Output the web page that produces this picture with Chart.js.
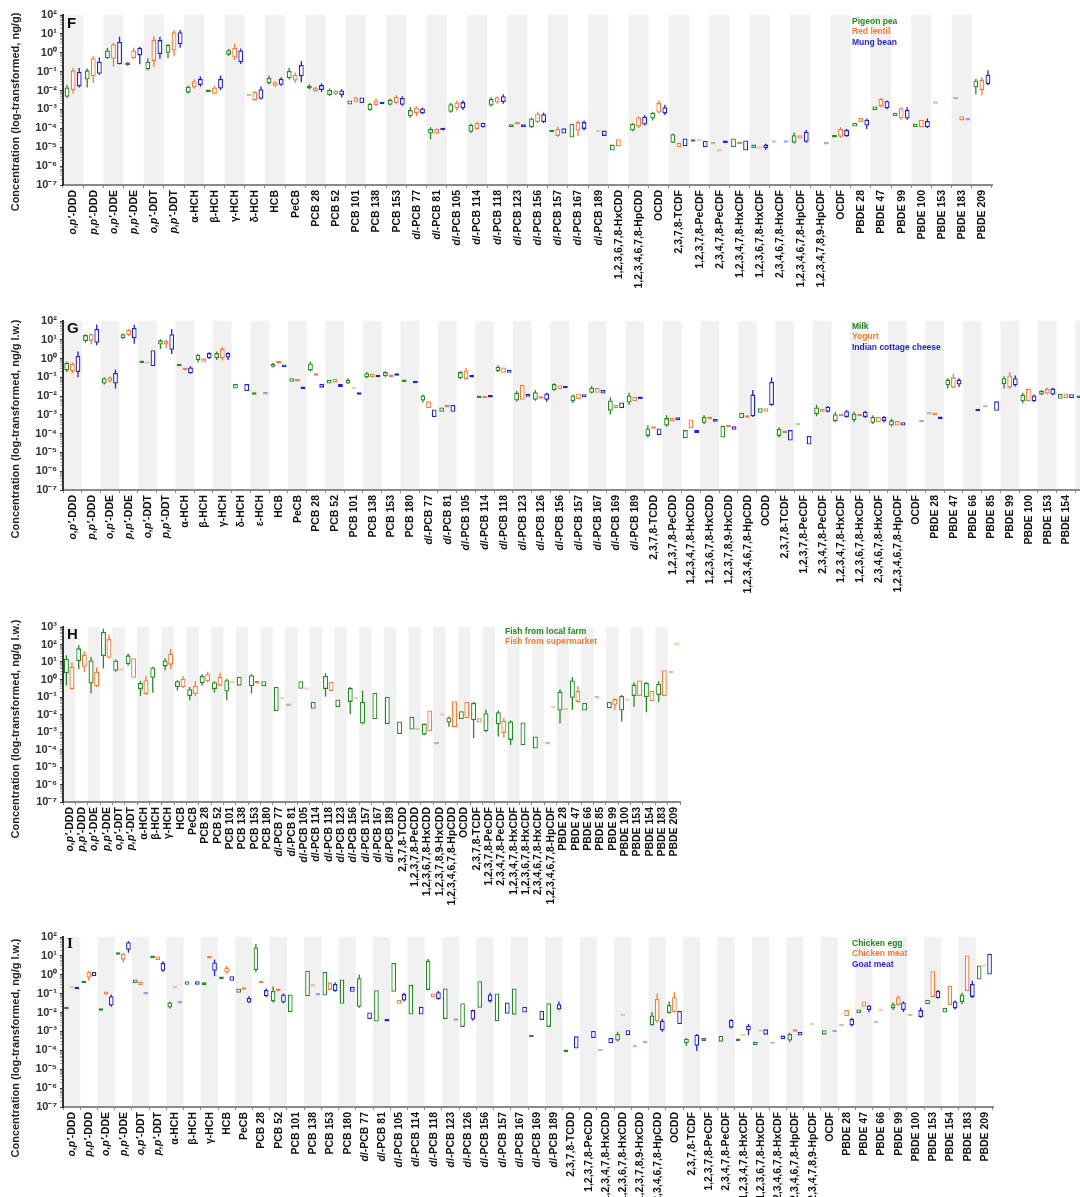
<!DOCTYPE html>
<html>
<head>
<meta charset="utf-8">
<script src="https://cdn.jsdelivr.net/npm/chart.js@4.4.1/dist/chart.umd.min.js"></script>
<style>
  html, body { margin: 0; padding: 0; background: #fff; overflow: hidden; }
  #page { position: relative; width: 1080px; height: 1197px; overflow: hidden; }
  .panel { position: absolute; left: 0; }
  .letter { position: absolute; left: 67px; font: bold 15px/15px "Liberation Sans", Arial, sans-serif; color: #111; }
  .legend { position: absolute; left: 852px; font: bold 8.5px/10.3px "Liberation Sans", Arial, sans-serif; white-space: nowrap; }
  .ytitle { position: absolute; left: -115px; width: 260px; height: 14px; text-align: center; transform: rotate(-90deg);
            font: bold 11px/14px "Liberation Sans", Arial, sans-serif; color: #222; white-space: nowrap; }
</style>
</head>
<body>
<div id="page">
  <canvas id="chartF" class="panel" style="top:0px" width="1080" height="300"></canvas>
  <canvas id="chartG" class="panel" style="top:300px" width="1100" height="310"></canvas>
  <canvas id="chartH" class="panel" style="top:600px" width="1080" height="305"></canvas>
  <canvas id="chartI" class="panel" style="top:890px" width="1080" height="307"></canvas>

  <div class="ytitle" style="top:105px">Concentration (log-transformed, ng/g)</div>
  <div class="ytitle" style="top:422px">Concentration (log-transformed, ng/g l.w.)</div>
  <div class="ytitle" style="top:722px">Concentration (log-transformed, ng/g l.w.)</div>
  <div class="ytitle" style="top:1041px">Concentration (log-transformed, ng/g l.w.)</div>

  <div class="letter" style="top:15px">F</div>
  <div class="letter" style="top:320px">G</div>
  <div class="letter" style="top:626px">H</div>
  <div class="letter" style="top:936px;font-family:'Liberation Serif',serif">I</div>

  <div class="legend" style="top:16px">
    <div style="color:#228b22">Pigeon pea</div><div style="color:#ff7a30">Red lentil</div><div style="color:#1f1fe6">Mung bean</div>
  </div>
  <div class="legend" style="top:321px">
    <div style="color:#228b22">Milk</div><div style="color:#ff7a30">Yogurt</div><div style="color:#1f1fe6">Indian cottage cheese</div>
  </div>
  <div class="legend" style="top:626px;left:505px">
    <div style="color:#228b22">Fish from local farm</div><div style="color:#ff7a30">Fish from supermarket</div>
  </div>
  <div class="legend" style="top:938px">
    <div style="color:#228b22">Chicken egg</div><div style="color:#ff7a30">Chicken meat</div><div style="color:#1f1fe6">Goat meat</div>
  </div>
</div>

<script>
// values are log10(concentration): [min, q1, q3, max], [q1, q3] or [single value]

const GREEN = '#228b22', ORANGE = '#ff7a30', BLUE = '#1f1fe6';

// ---- F: pulses, ng/g ----
const fCats = ["o,p′-DDD","p,p′-DDD","o,p′-DDE","p,p′-DDE","o,p′-DDT","p,p′-DDT","α-HCH","β-HCH","γ-HCH","δ-HCH","HCB","PeCB",
  "PCB 28","PCB 52","PCB 101","PCB 138","PCB 153","dl-PCB 77","dl-PCB 81","dl-PCB 105","dl-PCB 114","dl-PCB 118","dl-PCB 123",
  "dl-PCB 156","dl-PCB 157","dl-PCB 167","dl-PCB 189","1,2,3,6,7,8-HxCDD","1,2,3,4,6,7,8-HpCDD","OCDD","2,3,7,8-TCDF",
  "1,2,3,7,8-PeCDF","2,3,4,7,8-PeCDF","1,2,3,4,7,8-HxCDF","1,2,3,6,7,8-HxCDF","2,3,4,6,7,8-HxCDF","1,2,3,4,6,7,8-HpCDF",
  "1,2,3,4,7,8,9-HpCDF","OCDF","PBDE 28","PBDE 47","PBDE 99","PBDE 100","PBDE 153","PBDE 183","PBDE 209"];

const pigeonPea = [
  [-2.39,-2.33,-1.84,-1.71], [-1.84,-1.42,-0.93,-0.83], [-0.32,-0.29,0.12,0.26], [-0.69,-0.65,-0.52,-0.49], [-0.93,-0.87,-0.47,-0.29], [-0.29,0.0,0.41,0.48],
  [-2.15,-2.11,-1.80,-1.75], [-2.08,-2.02], [-0.16,-0.10,0.14,0.21], [-2.30],
  [-1.67,-1.62,-1.33,-1.20], [-1.42,-1.35,-0.96,-0.80],
  [-1.93,-1.89,-1.75,-1.67], [-2.30,-2.24,-1.97,-1.89], [-2.74,-2.52], [-3.07,-3.03,-2.70,-2.66], [-2.79,-2.75,-2.48,-2.44],
  [-3.43,-3.36,-3.03,-2.88], [-4.58,-4.27,-4.03,-3.94], [-3.17,-3.12,-2.72,-2.66], [-4.25,-4.18,-3.81,-3.76], [-2.84,-2.79,-2.44,-2.35],
  [-3.94,-3.79], [-3.98,-3.94,-3.48,-3.45], [-4.21,-4.15], [-4.49,-3.76], null,
  [-5.17,-4.86], [-4.16,-4.12,-3.76,-3.72], [-3.58,-3.48,-3.17,-3.12],
  [-4.78,-4.76,-4.31,-4.27], [-4.71,-4.67], [-4.86], [-5.00,-4.54], [-5.04,-4.86], [-4.76], [-4.80,-4.76,-4.36,-4.22], null, [-4.49,-4.36],
  [-3.90,-3.72], [-3.03,-2.84], [-3.36,-3.17], [-3.94,-3.76], [-2.70], [-2.48], [-2.20,-1.84,-1.47,-1.38]
];
const redLentil = [
  [-2.15,-1.97,-0.93,-0.80], [-1.60,-1.24,-0.29,-0.19], [-0.74,-0.32,0.45,0.54], [-0.32,-0.29,0.12,0.26], [-0.74,-0.43,0.67,0.88], [-0.19,0.12,1.09,1.21],
  [-1.89,-1.84,-1.51,-1.42], [-2.20,-2.17,-1.84,-1.75], [-0.38,-0.25,0.26,0.48], [-2.52,-2.52,-2.08,-2.02],
  [-1.80,-1.75,-1.56,-1.51], [-1.60,-1.47,-1.16,-1.05],
  [-2.06,-2.02,-1.84,-1.80], [-2.24,-2.20,-2.02,-1.99], [-2.63,-2.59,-2.37,-2.33], [-2.81,-2.77,-2.53,-2.44], [-2.70,-2.66,-2.33,-2.24],
  [-3.36,-3.21,-2.90,-2.84], [-4.31,-4.27,-4.03,-4.00], [-3.06,-2.94,-2.63,-2.52], [-4.07,-4.03,-3.72,-3.67], [-2.70,-2.63,-2.35,-2.30],
  [-3.80,-3.72], [-3.72,-3.67,-3.21,-3.12], [-4.45,-4.40,-4.03,-3.90], [-4.40,-4.12,-3.67,-3.58], [-4.22],
  [-4.95,-4.58], [-3.98,-3.90,-3.43,-3.36], [-3.21,-3.16,-2.66,-2.52],
  [-5.00,-4.76], [-4.69], [-5.22], [-4.84,-4.80], [-5.08], null, [-4.54,-4.36], null, [-4.49,-4.45,-4.03,-3.94],
  [-3.67,-3.45], [-2.88,-2.84,-2.44,-2.39], [-3.54,-3.48,-2.94,-2.88], [-3.94,-3.54], null, [-3.58,-3.36], [-2.26,-1.97,-1.42,-1.29]
];
const mungBean = [
  [-1.84,-1.78,-1.02,-0.80], [-1.16,-1.11,-0.47,-0.25], [-0.61,-0.61,0.59,0.85], [-0.61,-0.14,0.26,0.32], [-0.32,-0.07,0.67,0.85], [0.26,0.45,1.09,1.21],
  [-1.80,-1.71,-1.38,-1.25], [-1.97,-1.89,-1.38,-1.20], [-0.60,-0.50,0.12,0.23], [-2.48,-2.44,-1.93,-1.78],
  [-1.75,-1.69,-1.38,-1.29], [-1.56,-1.24,-0.65,-0.43],
  [-2.08,-1.97,-1.71,-1.62], [-2.37,-2.24,-2.00,-1.93], [-2.66,-2.37], [-2.72,-2.66], [-2.81,-2.75,-2.39,-2.30],
  [-3.25,-3.21,-2.95,-2.90], [-4.10,-4.05], [-3.03,-2.94,-2.61,-2.52], [-3.96,-3.94,-3.72,-3.70], [-2.70,-2.61,-2.30,-2.20],
  [-3.94,-3.79], [-3.72,-3.67,-3.25,-3.17], [-4.27,-4.00], [-4.12,-4.03,-3.67,-3.58], [-4.40,-4.12],
  null, [-3.85,-3.80,-3.39,-3.30], [-3.30,-3.21,-2.88,-2.75],
  [-4.95,-4.54], [-5.00,-4.67], [-4.77,-4.73], [-5.18,-4.64], [-5.15,-5.04,-4.86,-4.82], [-4.76], [-4.76,-4.71,-4.18,-4.09], [-4.86], [-4.45,-4.42,-4.09,-4.03],
  [-4.03,-3.85,-3.54,-3.48], [-2.99,-2.94,-2.57,-2.52], [-3.54,-3.48,-3.03,-2.88], [-3.98,-3.94,-3.61,-3.48], null, [-3.58], [-1.71,-1.66,-1.16,-0.93]
];

// ---- G: dairy, ng/g l.w. ----
const gCats = ["o,p′-DDD","p,p′-DDD","o,p′-DDE","p,p′-DDE","o,p′-DDT","p,p′-DDT","α-HCH","β-HCH","γ-HCH","δ-HCH","ε-HCH","HCB","PeCB",
  "PCB 28","PCB 52","PCB 101","PCB 138","PCB 153","PCB 180","dl-PCB 77","dl-PCB 81","dl-PCB 105","dl-PCB 114","dl-PCB 118",
  "dl-PCB 123","dl-PCB 126","dl-PCB 156","dl-PCB 157","dl-PCB 167","dl-PCB 169","dl-PCB 189","2,3,7,8-TCDD","1,2,3,7,8-PeCDD",
  "1,2,3,4,7,8-HxCDD","1,2,3,6,7,8-HxCDD","1,2,3,7,8,9-HxCDD","1,2,3,4,6,7,8-HpCDD","OCDD","2,3,7,8-TCDF","1,2,3,7,8-PeCDF",
  "2,3,4,7,8-PeCDF","1,2,3,4,7,8-HxCDF","1,2,3,6,7,8-HxCDF","2,3,4,6,7,8-HxCDF","1,2,3,4,6,7,8-HpCDF","OCDF","PBDE 28","PBDE 47",
  "PBDE 66","PBDE 85","PBDE 99","PBDE 100","PBDE 153","PBDE 154","PBDE 183"];

const milk = [
  [-0.72,-0.63,-0.22,-0.17], [0.84,0.93,1.25,1.30], [-1.38,-1.33,-1.05,-1.00], [1.03,1.08,1.30,1.34], [-0.24,-0.13], [0.51,0.75,0.97,1.03],
  [-0.41,-0.30], [-0.21,-0.08,0.20,0.25], [-0.08,0.01,0.29,0.38], [-1.60,-1.36], [-1.93,-1.88],
  [-0.48,-0.44,-0.28,-0.24], [-1.24,-1.05],
  [-0.68,-0.63,-0.26,-0.17], [-1.33,-1.14], [-1.36,-1.33,-1.12,-1.05], [-1.05,-1.00,-0.78,-0.72], [-1.00,-0.94,-0.72,-0.67], [-1.25,-1.20],
  [-2.34,-2.23,-1.97,-1.92], [-2.83,-2.60], [-1.09,-1.05,-0.72,-0.67], [-2.10,-1.97], [-0.72,-0.68,-0.44,-0.35], [-2.28,-2.23,-1.82,-1.73],
  [-2.25,-2.19,-1.79,-1.68], [-1.73,-1.68,-1.36,-1.31], [-2.38,-2.28,-1.97,-1.92], [-1.86,-1.82,-1.55,-1.46], [-2.98,-2.78,-2.23,-2.06], [-2.47,-2.34,-1.97,-1.82],
  [-4.21,-4.12,-3.72,-3.57], [-3.63,-3.57,-3.17,-3.02], [-4.25,-3.81], [-3.48,-3.42,-3.11,-3.02], [-4.21,-3.57], [-3.17,-2.89], [-2.89,-2.65],
  [-4.21,-4.12,-3.75,-3.66], [-3.57], [-3.07,-2.96,-2.60,-2.47], [-3.39,-3.33,-2.96,-2.83], [-3.39,-3.29,-2.93,-2.83], [-3.48,-3.42,-3.11,-3.02], [-3.61,-3.57,-3.29,-3.20], null,
  [-2.98], [-1.60,-1.42,-1.12,-1.05], null, [-2.61], [-1.60,-1.36,-1.05,-0.94], [-2.38,-2.28,-1.92,-1.82], [-1.95,-1.92,-1.73,-1.68], [-2.14,-1.88], [-2.10,-2.03]
];
const yogurt = [
  [-0.78,-0.68,-0.28,-0.21], [0.75,0.93,1.30,1.34], [-1.27,-1.22,-1.00,-0.94], [1.19,1.25,1.52,1.58], [-0.28], [0.53,0.75,0.93,0.99],
  [-0.61,-0.57], [-0.17,0.01], [-0.11,0.01,0.53,0.60], null, null,
  [-0.26,-0.19], [-1.22,-1.14],
  [-0.92,-0.87], [-1.27,-1.07], [-1.64], [-1.00,-0.81], [-0.98,-0.90], null,
  [-2.65,-2.28], [-2.61,-2.49], [-1.13,-1.09,-0.63,-0.50], [-2.12,-2.06], [-0.76,-0.48], [-2.19,-1.40],
  [-2.14,-2.08], [-1.64,-1.42], [-2.15,-1.86], [-1.82,-1.57], [-2.65,-2.47], [-2.28,-2.03],
  [-3.74,-3.66], [-3.33,-3.15], [-3.70,-3.24], [-3.22,-3.11], [-3.66,-3.61], [-3.15,-3.09], [-2.83,-2.65],
  [-3.97,-3.86], null, [-2.83,-2.69], [-3.07,-2.93], [-3.07,-2.96], [-3.39,-3.11], [-3.57,-3.33], null,
  [-3.02,-2.87], [-1.60,-1.55,-1.00,-0.81], null, null, [-1.60,-1.55,-0.90,-0.72], [-2.28,-1.60], [-1.92,-1.86,-1.60,-1.55], [-2.10,-1.86], null
];
const cottageCheese = [
  [-1.00,-0.72,0.14,0.38], [0.71,0.84,1.58,1.82], [-1.60,-1.33,-0.76,-0.59], [0.79,1.08,1.63,1.80], [-0.41,0.44], [0.24,0.47,1.30,1.58],
  [-0.81,-0.78,-0.48,-0.41], [-0.02,0.01,0.29,0.33], [-0.08,0.05,0.29,0.33], [-1.73,-1.36], [-1.92],
  [-0.46,-0.32], [-1.62,-1.55],
  [-1.55,-1.36], [-1.51,-1.36], [-1.93,-1.88], [-1.00,-0.87], [-0.92,-0.83], [-1.31,-1.20],
  [-3.11,-2.71], [-2.83,-2.47], [-1.01,-0.90], [-2.08,-1.97], [-0.76,-0.59], [-2.04,-1.88],
  [-2.30,-2.19,-1.86,-1.82], [-1.58,-1.53], [-2.06,-1.90], [-1.86,-1.68], [-2.65,-2.34], [-2.15,-2.06],
  [-4.07,-3.72], [-3.29,-3.13], [-3.96,-3.81], [-3.37,-3.22], [-3.79,-3.61], [-3.11,-3.07,-1.92,-1.68], [-2.52,-2.47,-1.24,-1.00],
  [-4.36,-3.81], [-4.58,-4.12], [-2.87,-2.83,-2.56,-2.52], [-3.15,-3.11,-2.80,-2.74], [-3.17,-3.11,-2.83,-2.78], [-3.40,-3.33,-3.11,-3.06], [-3.57,-3.39], [-3.39],
  [-3.22,-3.17], [-1.51,-1.38,-1.12,-1.05], [-2.80,-2.74], [-2.78,-2.28], [-1.49,-1.42,-1.05,-0.90], [-2.32,-2.28,-1.97,-1.92], [-1.95,-1.92,-1.60,-1.55], [-2.10,-1.90], null
];

// ---- H: fish, ng/g l.w. ----
const hCats = ["o,p′-DDD","p,p′-DDD","o,p′-DDE","p,p′-DDE","o,p′-DDT","p,p′-DDT","α-HCH","β-HCH","γ-HCH","HCB","PeCB",
  "PCB 28","PCB 52","PCB 101","PCB 138","PCB 153","PCB 180","dl-PCB 77","dl-PCB 81","dl-PCB 105","dl-PCB 114","dl-PCB 118",
  "dl-PCB 123","dl-PCB 156","dl-PCB 157","dl-PCB 167","dl-PCB 189","2,3,7,8-TCDD","1,2,3,7,8-PeCDD","1,2,3,6,7,8-HxCDD",
  "1,2,3,7,8,9-HxCDD","1,2,3,4,6,7,8-HpCDD","OCDD","2,3,7,8-TCDF","1,2,3,7,8-PeCDF","2,3,4,7,8-PeCDF","1,2,3,4,7,8-HxCDF",
  "1,2,3,6,7,8-HxCDF","2,3,4,6,7,8-HxCDF","1,2,3,4,6,7,8-HpCDF","PBDE 28","PBDE 47","PBDE 66","PBDE 85","PBDE 99","PBDE 100",
  "PBDE 153","PBDE 154","PBDE 183","PBDE 209"];

const fishFarm = [
  [-0.35,0.36,1.19,1.38], [0.59,1.05,1.78,1.97], [-0.79,-0.23,1.09,1.28], [0.63,1.34,2.72,2.90], [0.44,0.50,1.09,1.15], [0.79,0.89,1.38,1.48],
  [-0.94,-0.55,-0.20,-0.10], [-0.75,0.10,0.69,0.73], [0.53,0.75,1.09,1.22], [-0.63,-0.43,-0.10,-0.04], [-1.18,-0.94,-0.55,-0.43],
  [-0.35,-0.20,0.20,0.30], [-0.75,-0.55,-0.16,-0.10], [-1.18,-0.69,-0.04,0.04], [-0.35,0.16], [-0.79,-0.39,0.24,0.30], [-0.39,-0.10],
  [-1.81,-0.43], [-1.52], [-0.53,-0.10], [-1.67,-1.28], [-0.98,-0.55,0.20,0.36], [-1.58,-1.14], [-1.97,-1.28,-0.49,-0.43],
  [-2.56,-2.52,-1.28,-0.63], [-2.27,-0.75], [-2.56,-0.98],
  [-3.11,-2.40], [-2.86,-2.13], [-3.19,-3.15,-2.52,-2.52], [-3.71], [-2.70,-2.46,-2.17,-2.11], [-2.27,-1.81],
  [-3.35,-2.33,-1.34,-1.28], [-3.00,-2.96,-1.93,-1.73], [-3.25,-2.56,-1.87,-1.77], [-3.75,-3.45,-2.40,-2.33], [-3.75,-2.46], [-3.94,-3.25], [-3.71],
  [-2.52,-1.77,-0.69,-0.55], [-1.73,-1.04,-0.06,0.14], [-1.77,-1.34], [-1.08], [-1.64,-1.28], [-2.40,-1.77,-0.94,-0.89],
  [-1.57,-0.94,-0.29,-0.16], [-1.87,-1.02,-0.20,-0.14], [-1.28,-0.89,-0.25,-0.10], [0.36]
];
const fishMarket = [
  [-0.59,-0.55,0.73,0.99], [0.44,0.73,1.42,1.62], [-0.43,-0.39,0.44,0.69], [1.22,1.24,2.31,2.57], [0.50], [0.10,1.22],
  [-0.89,-0.83,-0.04,0.20], null, [0.59,0.85,1.48,1.74], [-0.49,-0.43,0.04,0.20], [-0.94,-0.83,-0.35,-0.10],
  [-0.16,-0.10,0.30,0.44], [-0.39,-0.35,0.16,0.40], [-0.23], null, [-0.23,-0.16], null,
  [-1.14], null, [-0.59], null, [-0.65,-0.14], null, [-1.14],
  null, null, null,
  null, [-2.90], [-2.96,-1.77], [-2.07], [-2.72,-1.24], [-2.21,-1.28],
  [-2.46,-2.21], null, [-3.31,-3.06,-2.36,-2.17], null, null, null, [-1.64],
  [-1.77], [-1.34,-1.28,-0.65,-0.39], null, null, [-1.73,-1.44,-1.12,-1.08], [-1.22],
  [-0.94,-0.06], [-1.24,-0.65], [-0.94,0.53], [1.97]
];

// ---- I: egg and meat, ng/g l.w. ----
const iCats = ["o,p′-DDD","p,p′-DDD","o,p′-DDE","p,p′-DDE","o,p′-DDT","p,p′-DDT","α-HCH","β-HCH","γ-HCH","HCB","PeCB",
  "PCB 28","PCB 52","PCB 101","PCB 138","PCB 153","PCB 180","dl-PCB 77","dl-PCB 81","dl-PCB 105","dl-PCB 114","dl-PCB 118",
  "dl-PCB 123","dl-PCB 126","dl-PCB 156","dl-PCB 157","dl-PCB 167","dl-PCB 169","dl-PCB 189","2,3,7,8-TCDD","1,2,3,7,8-PeCDD",
  "1,2,3,4,7,8-HxCDD","1,2,3,6,7,8-HxCDD","1,2,3,7,8,9-HxCDD","1,2,3,4,6,7,8-HpCDD","OCDD","2,3,7,8-TCDF","1,2,3,7,8-PeCDF",
  "2,3,4,7,8-PeCDF","1,2,3,4,7,8-HxCDF","1,2,3,6,7,8-HxCDF","2,3,4,6,7,8-HxCDF","1,2,3,4,6,7,8-HpCDF","1,2,3,4,7,8,9-HpCDF",
  "OCDF","PBDE 28","PBDE 47","PBDE 66","PBDE 99","PBDE 100","PBDE 153","PBDE 154","PBDE 183","PBDE 209"];

const chickenEgg = [
  [-1.82,-1.73], [-0.45,-0.31], [-1.91,-1.84], [1.06,1.13], [-0.44,-0.25], [0.89,1.02],
  [-1.78,-1.73,-1.47,-1.41], [-0.53,-0.34], [-0.55,-0.40], [-0.23,-0.18], [-0.95,-0.73],
  [0.15,0.25,1.45,1.63], [-1.47,-1.41,-0.86,-0.62], [-1.97,-1.04], [-1.14,0.21], [-1.10,0.15], [-1.54,-0.25],
  [-1.75,-1.69,-0.18,0.01], [-2.48,-0.82], [-0.90,0.62], [-2.10,-0.53], [-0.82,-0.80,0.75,0.84], [-2.34,-0.73],
  [-2.76,-1.51], [-1.75,-0.34], [-2.46,-0.99], [-2.11,-0.73], [-3.31,-3.28], [-2.76,-1.51],
  [-4.09,-4.00], null, [-4.05], [-3.54,-3.48,-3.13,-3.02], [-3.85], [-2.70,-2.67,-2.15,-1.97], [-2.06,-2.02,-1.60,-1.41],
  [-3.76,-3.63,-3.39,-3.35], [-3.50,-3.35], [-3.54,-3.24], [-3.50,-3.44], [-3.72,-3.54], [-3.66], [-3.57,-3.48,-3.13,-3.07], null, [-3.17,-2.94],
  [-2.72], [-2.02,-1.84], [-2.56], [-1.87,-1.78,-1.56,-1.47], [-2.19], [-1.56,-1.32], [-2.00,-1.75], [-1.56,-1.45,-1.04,-0.95], [-0.25,0.49]
];
const chickenMeat = [
  [-0.73], [-0.31,-0.16,0.15,0.21], [-1.04,-0.88], [0.65,0.80,1.13,1.17], [-0.55,-0.36], [0.78,0.97],
  [-0.73], null, [0.86,0.95], [0.06,0.12,0.38,0.47], [-0.79,-0.73],
  [-0.45,-0.32], [-0.86,-0.73], null, [-0.62], [-0.80,-0.40], null,
  null, null, [-1.54,-1.32], null, [-1.19,-0.99], null,
  null, null, null, null, null, null,
  null, null, null, [-2.19], null, [-2.52,-2.46,-1.28,-0.99], [-2.00,-1.97,-1.19,-0.92],
  null, null, null, [-3.26], [-3.02], null, [-3.02,-2.98], [-2.67], null,
  [-2.19,-1.87], [-1.69,-1.41], [-1.93], [-1.63,-1.60,-1.19,-1.10], null, [-1.17,0.19], [-1.60,-0.58], [-0.86,1.02], [0.43]
];
const goatMeat = [
  [-0.77,-0.71], [-0.08,0.15], [-1.69,-1.63,-1.14,-1.04], [1.17,1.32,1.72,1.78], [-1.04], [0.15,0.21,0.62,0.71],
  [-1.52], [-0.53,-0.34], [-0.07,0.21,0.65,0.80], [-0.32,-0.08], [-1.51,-1.47,-1.23,-1.14],
  [-1.17,-1.14,-0.80,-0.73], [-1.51,-1.47,-1.04,-0.99], null, [-1.10], [-0.90,-0.86,-0.49,-0.40], [-0.90,-0.64],
  [-2.34,-2.00], [-2.48,-2.43], [-1.41,-1.36,-1.01,-0.95], [-2.10,-1.69], [-1.32,-1.28,-0.92,-0.86], [-2.43],
  [-2.43,-2.37,-1.87,-1.84], [-1.47,-1.41,-1.04,-0.95], [-2.06,-1.47], [-2.00,-1.69], [-2.40,-1.90], [-1.87,-1.84,-1.56,-1.41],
  [-3.90,-3.26], [-3.35,-2.98], [-3.63,-3.35], [-3.20,-2.94], [-3.63], [-3.02,-2.94,-2.43,-2.34], [-2.61,-1.91],
  [-4.03,-3.76,-3.17,-3.13], null, [-2.85,-2.80,-2.39,-2.34], [-3.20,-2.94,-2.70,-2.61], [-3.17,-2.89], [-3.41,-3.22], [-3.22,-3.02], null, [-3.04],
  [-2.74,-2.67,-2.34,-2.28], [-1.98,-1.87,-1.63,-1.60], null, [-1.97,-1.87,-1.47,-1.41], [-2.28,-2.24,-1.87,-1.73], [-1.27,-1.23,-0.86,-0.80],
  [-1.84,-1.78,-1.41,-1.36], [-1.23,-1.17,-0.49,-0.31], [0.01,1.11]
];

Chart.defaults.font.family = '"Liberation Sans", Arial, sans-serif';
const LABEL_FONT = 'bold 10.5px "Liberation Sans", Arial, sans-serif';

const SUP = { '-': '⁻', '0': '⁰', '1': '¹', '2': '²', '3': '³', '4': '⁴', '5': '⁵', '6': '⁶', '7': '⁷', '8': '⁸', '9': '⁹' };
const isPow10 = v => Math.abs(Math.log10(v) - Math.round(Math.log10(v))) < 1e-6;
const powLabel = v => '10' + String(Math.round(Math.log10(v))).split('').map(c => SUP[c]).join('');
const fade = c => c + '66';

function toBox(e) {
  if (!e) return null;
  if (e.length === 1) return [10 ** e[0], 10 ** e[0]];
  if (e.length === 2) return [10 ** e[0], 10 ** e[1]];
  return [10 ** e[1], 10 ** e[2]];
}
function toWhisker(e) {
  if (!e || e.length < 4) return null;
  return [10 ** e[0], 10 ** e[3]];
}

// italic prefixes (o,p′ / p,p′ / dl) as in the figure
function splitLabel(lab) {
  const m = lab.match(/^([op],p′|dl)(.*)$/);
  return m ? [{ t: m[1], it: true }, { t: m[2], it: false }] : [{ t: lab, it: false }];
}

// alternating light bands behind the categories
const bandPlugin = {
  id: 'bands',
  beforeDraw(chart) {
    const { ctx, chartArea, scales: { x } } = chart;
    const n = chart.data.labels.length;
    const w = (chartArea.right - chartArea.left) / n;
    ctx.save();
    ctx.fillStyle = '#f1f1f1';
    for (let i = 0; i < n; i += 2) {
      const c = x.getPixelForValue(i);
      ctx.fillRect(c - w / 2, chartArea.top, w, chartArea.bottom - chartArea.top);
    }
    ctx.restore();
  }
};

// vertical category labels, read bottom-to-top, ending just under the axis
const labelPlugin = {
  id: 'catLabels',
  afterDraw(chart) {
    const { ctx, chartArea, scales: { x } } = chart;
    ctx.save();
    ctx.fillStyle = '#111';
    ctx.textBaseline = 'middle';
    ctx.textAlign = 'left';
    chart.data.labels.forEach((lab, i) => {
      const parts = splitLabel(lab);
      const fonts = parts.map(p => (p.it ? 'italic ' : '') + LABEL_FONT);
      let total = 0;
      const widths = parts.map((p, k) => { ctx.font = fonts[k]; const w = ctx.measureText(p.t).width; total += w; return w; });
      ctx.save();
      ctx.translate(x.getPixelForValue(i) + 0.5, chartArea.bottom + 5);
      ctx.rotate(-Math.PI / 2);
      let pos = -total;
      parts.forEach((p, k) => { ctx.font = fonts[k]; ctx.fillText(p.t, pos, 0); pos += widths[k]; });
      ctx.restore();
    });
    ctx.restore();
  }
};

function makePanel(id, cats, series, yMax, pad, xHeight, barPct) {
  const datasets = [];
  series.forEach(s => datasets.push({
    label: s.name, stack: s.name, order: 0,
    data: s.values.map(toBox),
    backgroundColor: s.values.map(e => e && e.length === 1 ? fade(s.color) : '#ffffff'),
    borderColor: s.values.map(e => e && e.length === 1 ? fade(s.color) : s.color),
    borderWidth: 1.3, borderSkipped: false, minBarLength: 2.5,
    barPercentage: barPct, categoryPercentage: 0.9
  }));
  series.forEach(s => datasets.push({
    label: s.name + ' range', stack: s.name, order: 1,
    data: s.values.map(toWhisker),
    backgroundColor: s.color, borderWidth: 0,
    maxBarThickness: 1.3, barPercentage: barPct, categoryPercentage: 0.9
  }));
  const maxExp = Math.round(Math.log10(yMax));

  return new Chart(document.getElementById(id), {
    type: 'bar',
    data: { labels: cats, datasets },
    options: {
      responsive: false, animation: false,
      layout: { padding: pad },
      plugins: { legend: { display: false }, tooltip: { enabled: false } },
      scales: {
        x: {
          grid: { drawOnChartArea: false, tickLength: 3, color: '#888' },
          border: { color: '#8a8a8a', width: 2 },
          ticks: { display: false },
          afterFit: ax => { ax.height = xHeight; }
        },
        y: {
          type: 'logarithmic', min: 1e-7, max: yMax, stacked: false,
          afterBuildTicks: ax => {
            const t = [];
            for (let e = -7; e < maxExp; e++) for (let m = 1; m < 10; m++) t.push({ value: m * 10 ** e });
            t.push({ value: yMax });
            ax.ticks = t;
          },
          grid: {
            drawOnChartArea: false, tickLength: 3,
            tickColor: ctx => isPow10(ctx.tick.value) ? '#333' : '#aaa'
          },
          border: { color: '#333', width: 2 },
          ticks: {
            autoSkip: false, padding: 3, color: '#333', font: { size: 11, weight: 'bold' },
            callback: v => isPow10(v) ? powLabel(v) : ''
          },
          afterFit: ax => { ax.width = 58; }
        }
      }
    },
    plugins: [bandPlugin, labelPlugin]
  });
}

makePanel('chartF', fCats, [
  { name: 'Pigeon pea', color: GREEN, values: pigeonPea },
  { name: 'Red lentil', color: ORANGE, values: redLentil },
  { name: 'Mung bean', color: BLUE, values: mungBean }
], 1e2, { left: 5, right: 88, top: 15, bottom: 0 }, 115, 0.8);

makePanel('chartG', gCats, [
  { name: 'Milk', color: GREEN, values: milk },
  { name: 'Yogurt', color: ORANGE, values: yogurt },
  { name: 'Indian cottage cheese', color: BLUE, values: cottageCheese }
], 1e2, { left: 5, right: 6, top: 21, bottom: 0 }, 120, 0.85);

makePanel('chartH', hCats, [
  { name: 'Fish from local farm', color: GREEN, values: fishFarm },
  { name: 'Fish from supermarket', color: ORANGE, values: fishMarket }
], 1e3, { left: 5, right: 400, top: 27, bottom: 0 }, 103, 0.9);

makePanel('chartI', iCats, [
  { name: 'Chicken egg', color: GREEN, values: chickenEgg },
  { name: 'Chicken meat', color: ORANGE, values: chickenMeat },
  { name: 'Goat meat', color: BLUE, values: goatMeat }
], 1e2, { left: 5, right: 87, top: 47, bottom: 0 }, 90, 0.9);
</script>
</body>
</html>
